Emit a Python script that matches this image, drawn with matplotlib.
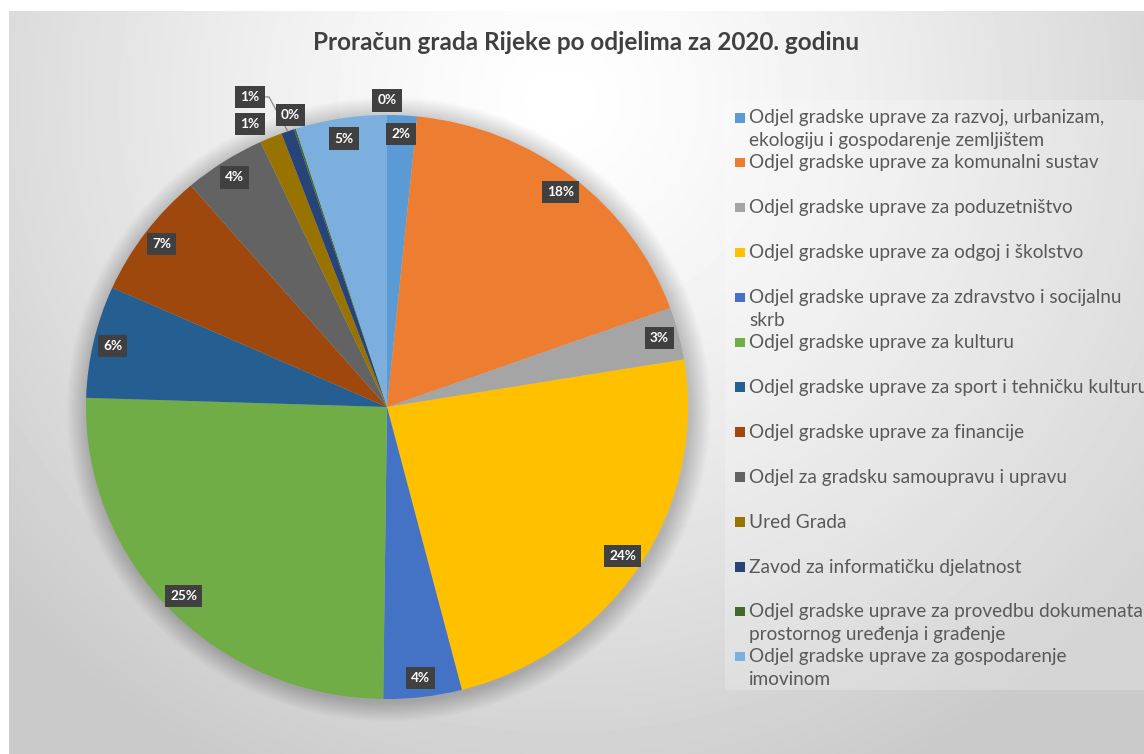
import numpy as np
import matplotlib
matplotlib.use('Agg')
import matplotlib.pyplot as plt
from matplotlib.patches import Ellipse, Rectangle

plt.rcParams['font.family'] = ['Lato', 'DejaVu Sans']

title = 'Proračun grada Rijeke po odjelima za 2020. godinu'

departments = [
    'Odjel gradske uprave za razvoj, urbanizam,\nekologiju i gospodarenje zemljištem',
    'Odjel gradske uprave za komunalni sustav',
    'Odjel gradske uprave za poduzetništvo',
    'Odjel gradske uprave za odgoj i školstvo',
    'Odjel gradske uprave za zdravstvo i socijalnu\nskrb',
    'Odjel gradske uprave za kulturu',
    'Odjel gradske uprave za sport i tehničku kulturu',
    'Odjel gradske uprave za financije',
    'Odjel za gradsku samoupravu i upravu',
    'Ured Grada',
    'Zavod za informatičku djelatnost',
    'Odjel gradske uprave za provedbu dokumenata\nprostornog uređenja i građenje',
    'Odjel gradske uprave za gospodarenje\nimovinom',
]
# udjeli u %, procijenjeno sa slike
shares = [1.6, 17.9, 2.9, 23.6, 4.2, 25.3, 6.2, 7.0, 4.4, 1.2, 0.7, 0.1, 4.9]
# jos jedna kriska od 0% na vrhu koja nema stavku u legendi
extra_share = [0.0]

colors = ['#5B9BD5', '#ED7D31', '#A5A5A5', '#FFC000', '#4472C4', '#70AD47',
          '#255E91', '#9E480E', '#636363', '#997300', '#264478', '#43682B',
          '#7CAFDD']

W, H = 1144, 754
fig = plt.figure(figsize=(W / 100, H / 100), dpi=100)
fig.patch.set_facecolor('white')

# pozadina s gradijentom
bg = fig.add_axes([9 / W, 0, 1 - 9 / W, 1 - 11 / H])
bg.set_axis_off()
yy, xx = np.mgrid[11:H, 9:W]
d = np.hypot(xx - 560, (yy - 100) * 1.0)
shade = 1 - 0.21 * np.clip(d / 750, 0, 1) ** 1.3
bg.imshow(shade, cmap='gray', vmin=0, vmax=1, aspect='auto',
          extent=[0, 1, 0, 1], interpolation='bilinear')
bg.set_xlim(0, 1)
bg.set_ylim(0, 1)

# os za pitu: 1 jedinica = 301 px vodoravno, 292 px okomito
cx, cy, rx, ry = 387, 407, 301, 292
span = 1.25
ax = fig.add_axes([(cx - span * rx) / W, (H - cy - span * ry) / H,
                   2 * span * rx / W, 2 * span * ry / H])
ax.set_axis_off()

# meka sjena oko pite
for k in range(1, 26):
    r = 1 + 0.0028 * k
    ax.add_patch(Ellipse((0.006, -0.008), 2 * r, 2 * r, facecolor='black',
                         edgecolor='none', alpha=0.009, zorder=0))

values = shares + extra_share
wedges, _ = ax.pie(values, colors=colors + ['none'], startangle=90,
                   counterclock=False, radius=1,
                   wedgeprops=dict(linewidth=0, zorder=2))
ax.set_aspect('auto')
ax.set_xlim(-span, span)
ax.set_ylim(-span, span)

total = sum(values)
cum = np.cumsum(values)
mid = np.radians(360 * (cum - np.array(values) / 2) / total)

label_r = [0.935] * 9 + [1.07, 1.15, 1.05, 0.93, 1.05]
# rucno pomaknute oznake malih kriski
label_xy = {9: (-0.455, 0.969), 10: (-0.455, 1.062)}

for i, v in enumerate(values):
    if i in label_xy:
        lx, ly = label_xy[i]
    else:
        lx = label_r[i] * np.sin(mid[i])
        ly = label_r[i] * np.cos(mid[i])
    ax.text(lx, ly, f'{100 * v / total:.0f}%', ha='center', va='center',
            color='white', fontsize=9.8, fontweight='bold', zorder=5,
            bbox=dict(boxstyle='square,pad=0.38', fc='#404040', ec='none'))

# linija od oznake do kriske Zavoda
i = 10
lx, ly = label_xy[i]
ax.plot([lx + 0.045, lx + 0.063, np.sin(mid[i])],
        [ly, ly, np.cos(mid[i])], color='#7f7f7f', lw=0.8, zorder=4)

# naslov
fig.text(586 / W, 1 - 42 / H, title, ha='center', va='center',
         fontsize=17.5, fontweight='bold', color='#404040')

# legenda
fig.patches.append(Rectangle((725 / W, 1 - 690 / H), (W - 725) / W, 590 / H,
                             transform=fig.transFigure, facecolor='white',
                             edgecolor='none', alpha=0.22, zorder=1))
y0, step, line_h = 118, 44.9, 22.5
for i, name in enumerate(departments):
    y = y0 + step * i
    fig.patches.append(Rectangle((735 / W, 1 - (y + 4.5) / H), 9.5 / W, 9.5 / H,
                                 transform=fig.transFigure,
                                 facecolor=colors[i], edgecolor='none',
                                 zorder=2))
    for j, line in enumerate(name.split('\n')):
        fig.text(749 / W, 1 - (y + j * line_h) / H, line, ha='left',
                 va='center', fontsize=13.7, color='#595959', zorder=3)

fig.savefig('out.png', dpi=100)
